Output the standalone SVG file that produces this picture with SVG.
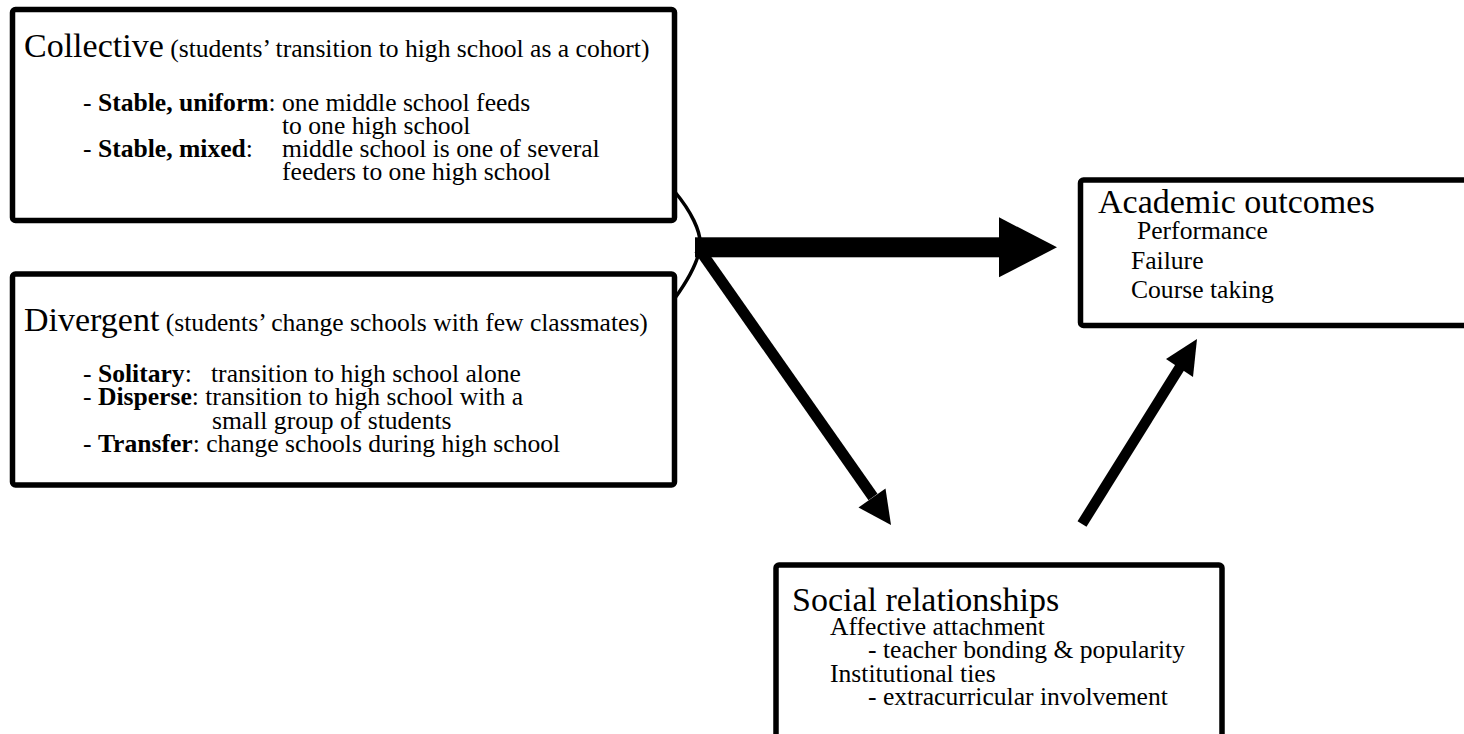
<svg xmlns="http://www.w3.org/2000/svg" width="1464" height="734" viewBox="0 0 1464 734">
<style>
.box{fill:#fff;stroke:#000;stroke-width:5.5}
text{font-family:"Liberation Serif","Times New Roman",serif;fill:#000}
.big{font-size:34px}
.sm{font-size:25.6px}
.b{font-weight:bold}
</style>
<rect width="1464" height="734" fill="#fff"/>
<g id="collective">
<rect class="box" x="12.5" y="9.5" width="662" height="211" rx="3"/>
<text x="24" y="57"><tspan class="big">Collective</tspan><tspan class="sm"> (students’ transition to high school as a cohort)</tspan></text>
<text class="sm"><tspan x="83" y="111">- <tspan class="b">Stable, uniform</tspan>: one middle school feeds</tspan><tspan x="282" y="134">to one high school</tspan><tspan x="83" y="157">- <tspan class="b">Stable, mixed</tspan>:</tspan><tspan x="282" y="157">middle school is one of several</tspan><tspan x="282" y="180">feeders to one high school</tspan></text>
</g>
<g id="divergent">
<rect class="box" x="12.5" y="274" width="662" height="211" rx="3"/>
<text x="24" y="331"><tspan class="big">Divergent</tspan><tspan class="sm"> (students’ change schools with few classmates)</tspan></text>
<text class="sm"><tspan x="83" y="382">- <tspan class="b">Solitary</tspan>:</tspan><tspan x="211" y="382">transition to high school alone</tspan><tspan x="83" y="405">- <tspan class="b">Disperse</tspan>: transition to high school with a</tspan><tspan x="212" y="429">small group of students</tspan><tspan x="83" y="452">- <tspan class="b">Transfer</tspan>: change schools during high school</tspan></text>
</g>
<g id="academic">
<rect class="box" x="1080.5" y="180" width="400" height="145.5" rx="3"/>
<text><tspan class="big" x="1098" y="213">Academic outcomes</tspan><tspan class="sm" x="1137" y="239">Performance</tspan><tspan class="sm" x="1131" y="269">Failure</tspan><tspan class="sm" x="1131" y="298">Course taking</tspan></text>
</g>
<g id="social">
<rect class="box" x="776" y="565" width="446" height="190" rx="3"/>
<text><tspan class="big" x="792" y="611">Social relationships</tspan><tspan class="sm" x="830" y="635">Affective attachment</tspan><tspan class="sm" x="868" y="658">- teacher bonding &amp; popularity</tspan><tspan class="sm" x="830" y="682">Institutional ties</tspan><tspan class="sm" x="868" y="705">- extracurricular involvement</tspan></text>
</g>
<g id="connectors">
<path d="M675 192 C690 210 702 232 700 247 C698 262 688 280 675 298" fill="none" stroke="#000" stroke-width="3.5"/>
<rect x="695" y="237.3" width="305" height="20" fill="#000"/>
<polygon points="999,217.3 1057,247.3 999,277.3" fill="#000"/>
<line x1="699" y1="249" x2="873" y2="497" stroke="#000" stroke-width="11"/>
<polygon points="891,525 858.5,507.5 885.5,488.5" fill="#000"/>
<line x1="1082" y1="524" x2="1180" y2="367" stroke="#000" stroke-width="10.5"/>
<polygon points="1197,339 1166,359 1193,377" fill="#000"/>
</g>
</svg>
